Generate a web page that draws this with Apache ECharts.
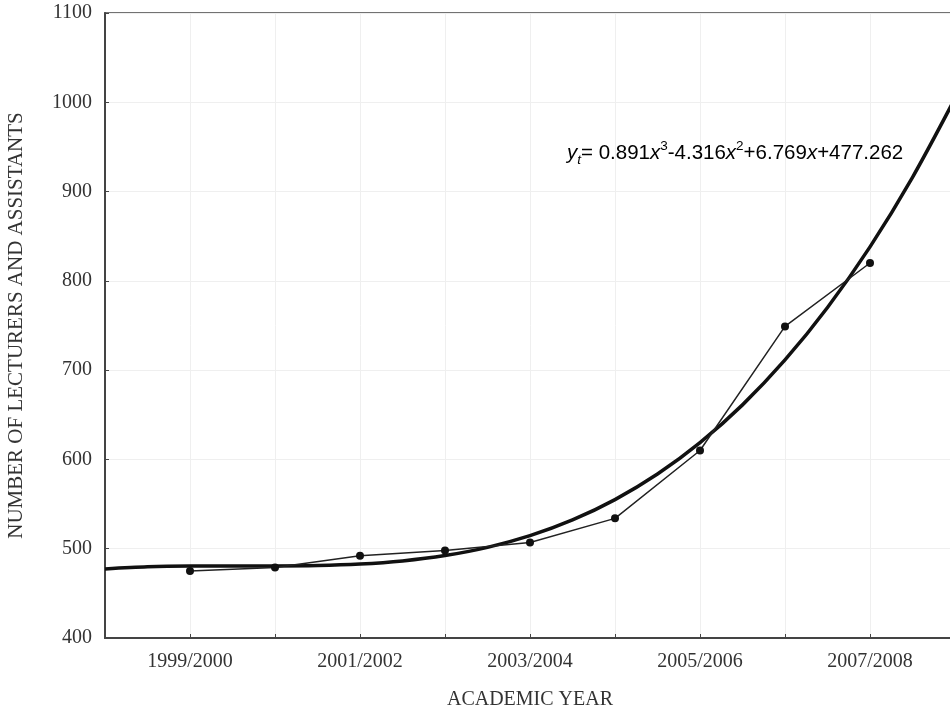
<!DOCTYPE html>
<html lang="en">
	<head>
		<meta charset="utf-8" />
		<title>Lecturers and assistants</title>
		<style>
			html, body { margin: 0; padding: 0; background: #fff; }
		</style>
	</head>
	<body>
		<div id="main" style="width: 950px; height: 712px;"></div>

		<script src="https://cdn.jsdelivr.net/npm/echarts@6/dist/echarts.min.js"></script>
		<script type="text/javascript">
			// academic years, placed at x = 1..9
			const years = ['1999/2000', '2000/2001', '2001/2002', '2002/2003', '2003/2004',
				'2004/2005', '2005/2006', '2006/2007', '2007/2008'];
			const staff = [475, 479, 492, 498, 507, 534, 610, 749, 820];
			// only every other year is labelled
			const tickLabels = ['', '1999/2000', '', '2001/2002', '', '2003/2004', '', '2005/2006', '', '2007/2008', ''];
			// fitted trend, x = 0 .. 10 in half steps
			const trendX = [0, 0.5, 1, 1.5, 2, 2.5, 3, 3.5, 4, 4.5, 5, 5.5, 6, 6.5, 7, 7.5, 8, 8.5, 9, 9.5, 10];
			const trendY = [477.3, 479.7, 480.6, 480.7, 480.7, 481.1, 482.8, 486.3, 492.3, 501.5, 514.6,
				532.2, 555.0, 583.6, 618.8, 661.1, 711.4, 770.2, 838.1, 916.0, 1004.4];

			const serif = '"Liberation Serif", "DejaVu Serif", serif';
			const sans = '"Liberation Sans", Arial, sans-serif';

			const myChart = echarts.init(document.getElementById('main'));

			const option = {
				animation: false,
				grid: {
					left: 105, right: -5, top: 13, bottom: 74,
					outerBoundsMode: 'none', containLabel: false,
					show: true, borderColor: '#444', borderWidth: 1.5
				},
				xAxis: {
					type: 'value', min: 0, max: 10, interval: 1,
					name: 'ACADEMIC YEAR', nameLocation: 'middle', nameGap: 52,
					nameTextStyle: { fontFamily: serif, fontSize: 20, color: '#333' },
					axisLine: { lineStyle: { color: '#444', width: 2 } },
					axisTick: { inside: true, length: 4, lineStyle: { color: '#444' } },
					axisLabel: {
						margin: 14, fontFamily: serif, fontSize: 20, color: '#333',
						showMinLabel: false, showMaxLabel: false,
						formatter: (v) => tickLabels[v] || ''
					},
					splitLine: { show: true, lineStyle: { color: '#efefef', width: 1 } }
				},
				yAxis: {
					type: 'value', min: 400, max: 1100, interval: 100,
					name: 'NUMBER OF LECTURERS AND ASSISTANTS', nameLocation: 'middle', nameGap: 78,
					nameTextStyle: { fontFamily: serif, fontSize: 21, color: '#333' },
					axisLine: { show: true, lineStyle: { color: '#444', width: 2 } },
					axisTick: { show: true, inside: true, length: 4, lineStyle: { color: '#444' } },
					axisLabel: { margin: 13, fontFamily: serif, fontSize: 20, color: '#333', formatter: (v) => String(v) },
					splitLine: { show: true, lineStyle: { color: '#efefef', width: 1 } }
				},
				series: [
					{
						type: 'line',
						data: staff.map((v, i) => [i + 1, v]),
						symbol: 'circle', symbolSize: 8,
						itemStyle: { color: '#111' },
						lineStyle: { color: '#222', width: 1.5 },
						z: 3
					},
					{
						type: 'line',
						data: trendX.map((x, i) => [x, trendY[i]]),
						showSymbol: false, smooth: 0.3,
						lineStyle: { color: '#111', width: 3.5 },
						z: 2
					}
				],
				graphic: [{
					type: 'text', left: 567, top: 139, z: 100,
					style: {
						text: '{i|y}{sub|t}{n|= 0.891}{i|x}{sup|3}{n|-4.316}{i|x}{sup|2}{n|+6.769}{i|x}{n|+477.262}',
						rich: {
							n: { fontFamily: sans, fontSize: 20.5, color: '#111', lineHeight: 28 },
							i: { fontFamily: sans, fontSize: 20.5, fontStyle: 'italic', color: '#111', lineHeight: 28 },
							sup: { fontFamily: sans, fontSize: 13.5, color: '#111', lineHeight: 10, verticalAlign: 'top' },
							sub: { fontFamily: sans, fontSize: 13.5, fontStyle: 'italic', color: '#111', lineHeight: 12, verticalAlign: 'bottom' }
						}
					}
				}]
			};
			myChart.setOption(option);
		</script>
	</body>
</html>
